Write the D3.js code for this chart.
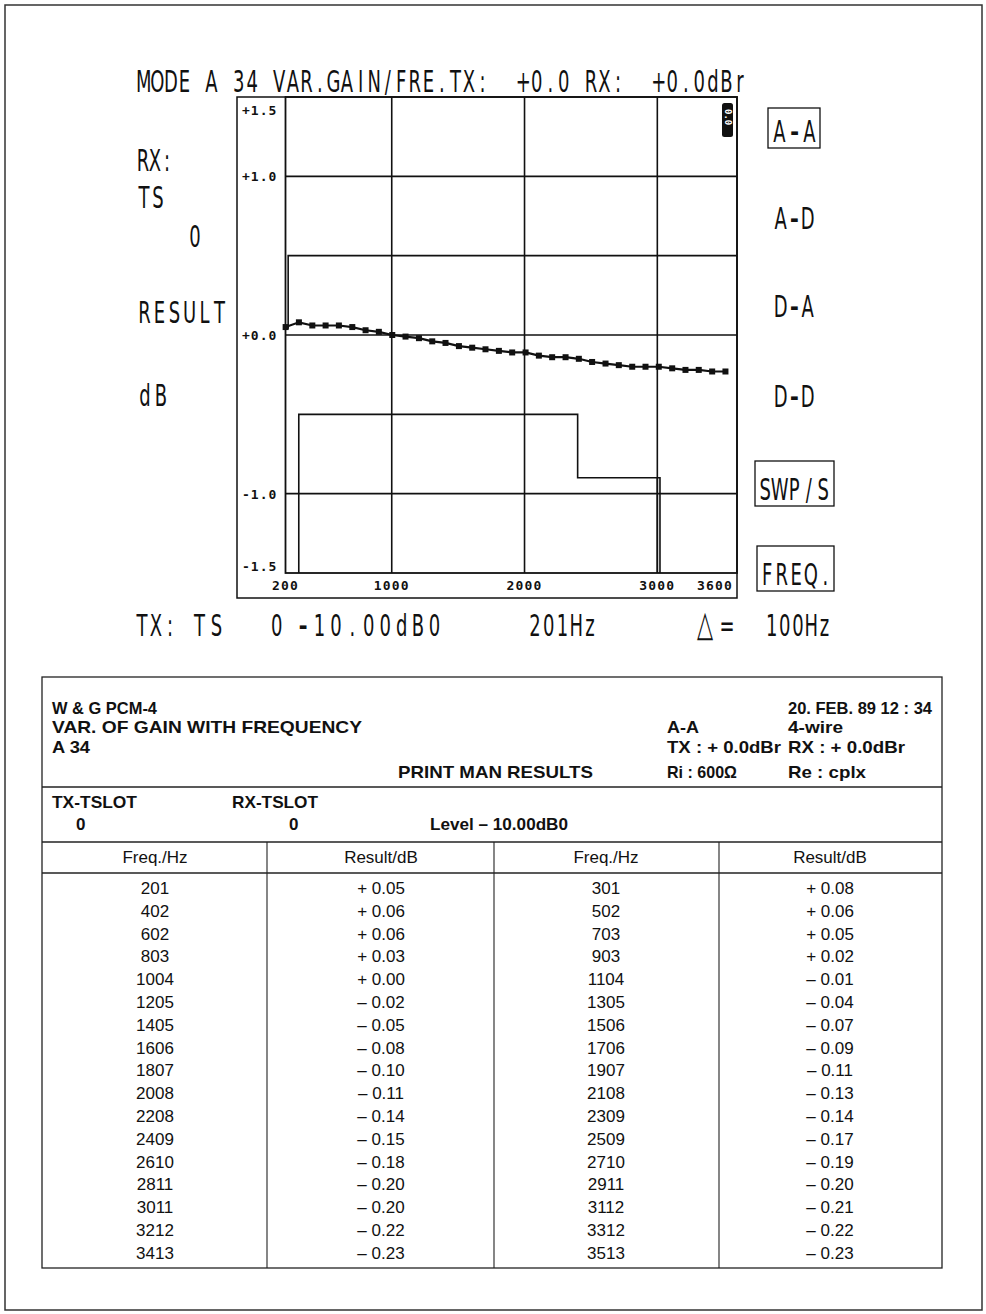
<!DOCTYPE html>
<html><head><meta charset="utf-8">
<script src="https://cdn.jsdelivr.net/npm/d3@7"></script>
<style>
html,body{margin:0;padding:0;background:#fff;}
svg{display:block;}
text{white-space:pre;}
</style></head>
<body>
<script>
// ---------- DATA ----------
const freqs = [201,301,402,502,602,703,803,903,1004,1104,1205,1305,1405,1506,1606,1706,1807,1907,2008,2108,2208,2309,2409,2509,2610,2710,2811,2911,3011,3112,3212,3312,3413,3513];
const results = [0.05,0.08,0.06,0.06,0.06,0.05,0.03,0.02,0.00,-0.01,-0.02,-0.04,-0.05,-0.07,-0.08,-0.09,-0.10,-0.11,-0.11,-0.13,-0.14,-0.14,-0.15,-0.17,-0.18,-0.19,-0.20,-0.20,-0.20,-0.21,-0.22,-0.22,-0.23,-0.23];
const yTicks = [1.5, 1.0, 0.0, -1.0, -1.5];
const yTickLabels = ["+1.5","+1.0","+0.0","-1.0","-1.5"];
const xTicks = [200, 1000, 2000, 3000, 3600];
const gridX = [1000, 2000, 3000];
const gridY = [1.0, 0.0, -1.0];
const upperMaskF = [220, 220, 3600];
const upperMaskV = [0.04, 0.5, 0.5];
const lowerMaskF = [300, 300, 2400, 2400, 3020, 3020];
const lowerMaskV = [-1.5, -0.5, -0.5, -0.9, -0.9, -1.5];
const lowerMask2F = [3000, 3000];
const lowerMask2V = [-0.9, -1.5];
const rightLabels = ["A-A","A-D","D-A","D-D","SWP/S","FREQ."];
const leftLabels = ["RX:","TS","0","RESULT","dB"];
const bottomLabels = ["TX:","TS","0","-10.00dB0","201Hz","\u25B3=","100Hz"];
const titleText = "MODE A 34 VAR.GAIN/FRE.TX:  +0.0 RX:  +0.0dBr";

// ---------- SETUP ----------
const W = 986, H = 1314;
const svg = d3.select("body").append("svg").attr("width", W).attr("height", H);
const ink = "#111";

svg.append("rect").attr("x",5).attr("y",5).attr("width",977).attr("height",1305)
  .attr("fill","none").attr("stroke","#333").attr("stroke-width",1.5);

const x = d3.scaleLinear().domain([200, 3600]).range([285.5, 737]);
const y = d3.scaleLinear().domain([-1.5, 1.5]).range([573, 97]);

// plotter-style text: narrow glyphs on a fixed character pitch
const PS = 0.58;          // horizontal squeeze of glyphs
function ptext(px, py, str, adv) {
  adv = adv || 13.5;
  const chars = Array.from(str);
  const t = svg.append("text")
    .attr("transform", `translate(${px},${py}) scale(${PS},1)`)
    .attr("font-family", "'DejaVu Sans', sans-serif")
    .attr("font-size", 31).attr("fill", ink).attr("text-anchor","middle");
  chars.forEach((c,i)=>{
    const sp = t.append("tspan").attr("x", ((i+0.5)*adv)/PS).text(c);
    if (c === "-") sp.attr("font-size", 44).attr("y", 3);
    else if (c === "\u25B3") sp.attr("font-size", 36).attr("y", 0);
    else sp.attr("y", 0);
  });
  return t;
}

// title
ptext(137, 92, titleText, 13.55);

// outer label frame
svg.append("rect").attr("x",237).attr("y",97).attr("width",500).attr("height",501)
  .attr("fill","none").attr("stroke",ink).attr("stroke-width",1.5);

// plot area frame
svg.append("rect").attr("x",x(200)).attr("y",y(1.5)).attr("width",x(3600)-x(200)).attr("height",y(-1.5)-y(1.5))
  .attr("fill","none").attr("stroke",ink).attr("stroke-width",1.8);

// grid
svg.append("g").selectAll("line").data(gridX).join("line")
  .attr("x1",d=>x(d)).attr("x2",d=>x(d)).attr("y1",y(1.5)).attr("y2",y(-1.5))
  .attr("stroke",ink).attr("stroke-width",1.6);
svg.append("g").selectAll("line").data(gridY).join("line")
  .attr("x1",x(200)).attr("x2",x(3600)).attr("y1",d=>y(d)).attr("y2",d=>y(d))
  .attr("stroke",ink).attr("stroke-width",1.6);

// y tick labels
const tickFont = "'DejaVu Sans Mono', monospace";
svg.append("g").selectAll("text").data(yTicks).join("text")
  .attr("x",242)
  .attr("y",(d,i)=> i===0 ? y(d)+18 : (i===yTicks.length-1 ? y(d)-2 : y(d)+5))
  .attr("font-family",tickFont).attr("font-weight","bold").attr("font-size",13)
  .attr("letter-spacing",1).attr("fill",ink)
  .text((d,i)=>yTickLabels[i]);

// x tick labels
svg.append("g").selectAll("text").data(xTicks).join("text")
  .attr("x",d=> d===3600 ? x(d)-4 : x(d))
  .attr("y",590)
  .attr("text-anchor",d=> d===3600 ? "end" : "middle")
  .attr("font-family",tickFont).attr("font-weight","bold").attr("font-size",13)
  .attr("letter-spacing",1.2).attr("fill",ink)
  .text(d=>d);

// masks
const lineGen = d3.line().x(d=>x(d[0])).y(d=>y(d[1]));
function drawMask(fs, vs){
  svg.append("path").attr("d", lineGen(fs.map((f,i)=>[f, vs[i]])))
    .attr("fill","none").attr("stroke",ink).attr("stroke-width",1.6);
}
drawMask(upperMaskF, upperMaskV);
drawMask(lowerMaskF, lowerMaskV);
drawMask(lowerMask2F, lowerMask2V);

// data line + markers
const pts = freqs.map((f,i)=>[f, results[i]]);
svg.append("path").attr("d", lineGen(pts))
  .attr("fill","none").attr("stroke",ink).attr("stroke-width",2.2);
svg.append("g").selectAll("rect").data(pts).join("rect")
  .attr("x",d=>x(d[0])-3).attr("y",d=>y(d[1])-3).attr("width",6).attr("height",6)
  .attr("fill",ink);

// marker badge top right
svg.append("rect").attr("x",722).attr("y",103).attr("width",11).attr("height",34)
  .attr("rx",2.5).attr("fill",ink);
svg.append("text").attr("transform","translate(725,109) rotate(90)")
  .attr("font-family",tickFont).attr("font-size",9).attr("font-weight","bold")
  .attr("fill","#fff").text("0.0");

// left labels
const leftPos = [[137,171,12],[137,208,14],[189,247,12],[137,323,15],[137,406,16]];
leftLabels.forEach((t,i)=>ptext(leftPos[i][0], leftPos[i][1], t, leftPos[i][2]));

// right labels
const rightPos = [[772,142,15],[774,229,13.5],[774,317,13.5],[774,407,13.5],[758,500,14.5],[760,585,14.5]];
rightLabels.forEach((t,i)=>ptext(rightPos[i][0], rightPos[i][1], t, rightPos[i][2]));
svg.append("rect").attr("x",768).attr("y",108).attr("width",52).attr("height",40)
  .attr("fill","none").attr("stroke",ink).attr("stroke-width",1.3);
svg.append("rect").attr("x",755).attr("y",461).attr("width",79).attr("height",45)
  .attr("fill","none").attr("stroke",ink).attr("stroke-width",1.3);
svg.append("rect").attr("x",757).attr("y",546).attr("width",77).attr("height",45)
  .attr("fill","none").attr("stroke",ink).attr("stroke-width",1.3);

// bottom line
const bottomPos = [[135,14],[191,17],[270,13.5],[295,16.4],[528,13.8],[694,22],[765,13.2]];
bottomLabels.forEach((t,i)=>ptext(bottomPos[i][0], 636, t, bottomPos[i][1]));

// ---------- TABLE ----------
const tf = "'Liberation Sans', Arial, sans-serif";
const T = svg.append("g");
T.append("rect").attr("x",42).attr("y",677).attr("width",900).attr("height",591)
  .attr("fill","none").attr("stroke","#222").attr("stroke-width",1.3);
[787, 842, 873].forEach(yy=>T.append("line").attr("x1",42).attr("x2",942).attr("y1",yy).attr("y2",yy)
  .attr("stroke","#222").attr("stroke-width",1.3));
[267, 494, 719].forEach(xx=>T.append("line").attr("x1",xx).attr("x2",xx).attr("y1",842).attr("y2",1268)
  .attr("stroke","#222").attr("stroke-width",1.1));

function tt(px, py, str, opts){
  opts = opts||{};
  const t = T.append("text").attr("x",px).attr("y",py)
    .attr("font-family",tf).attr("font-size",opts.size||17)
    .attr("font-weight",opts.bold?"bold":"normal")
    .attr("text-anchor",opts.anchor||"start").attr("fill","#111").text(str);
  if (opts.w) t.attr("textLength", opts.w).attr("lengthAdjust","spacingAndGlyphs");
  return t;
}
tt(52,714,"W & G PCM-4",{bold:true,w:105});
tt(52,733,"VAR. OF GAIN WITH FREQUENCY",{bold:true,w:310});
tt(52,753,"A 34",{bold:true,w:38});
tt(398,778,"PRINT MAN RESULTS",{bold:true,w:195});
tt(788,714,"20. FEB. 89 12 : 34",{bold:true,w:144});
tt(667,733,"A-A",{bold:true,w:32});
tt(788,733,"4-wire",{bold:true,w:55});
tt(667,753,"TX : + 0.0dBr",{bold:true,w:114});
tt(788,753,"RX : + 0.0dBr",{bold:true,w:117});
tt(667,778,"Ri : 600\u03A9",{bold:true,w:70});
tt(788,778,"Re : cplx",{bold:true,w:78});
tt(52,808,"TX-TSLOT",{bold:true,w:85});
tt(232,808,"RX-TSLOT",{bold:true,w:86});
tt(76,830,"0",{bold:true});
tt(289,830,"0",{bold:true});
tt(430,830,"Level \u2013 10.00dB0",{bold:true,w:138});

const colC = [155, 381, 606, 830];
["Freq./Hz","Result/dB","Freq./Hz","Result/dB"].forEach((h,i)=>tt(colC[i],863,h,{anchor:"middle"}));

function fmt(v){
  const s = Math.abs(v).toFixed(2);
  return (v < 0 ? "\u2013 " : "+ ") + s;
}
const nRows = Math.ceil(freqs.length/2);
for (let r=0; r<nRows; r++){
  const yy = 894 + r*22.8;
  const a = 2*r, b = 2*r+1;
  tt(colC[0], yy, freqs[a], {anchor:"middle"});
  tt(colC[1], yy, fmt(results[a]), {anchor:"middle"});
  if (b < freqs.length){
    tt(colC[2], yy, freqs[b], {anchor:"middle"});
    tt(colC[3], yy, fmt(results[b]), {anchor:"middle"});
  }
}
</script>
</body></html>
